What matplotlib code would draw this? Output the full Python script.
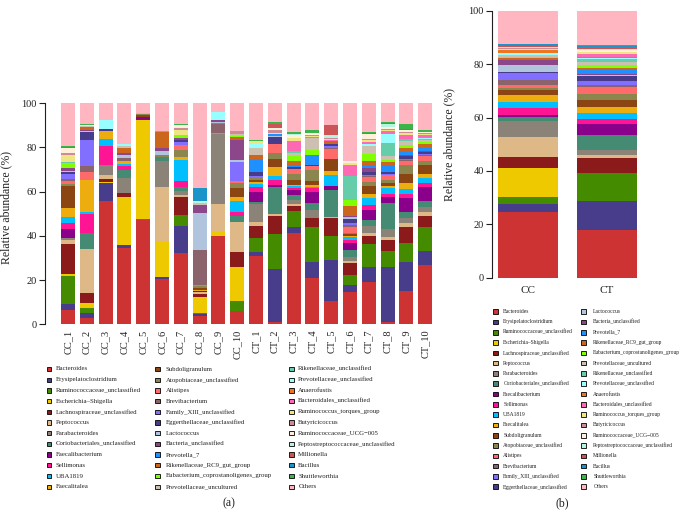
import numpy as np
import matplotlib
matplotlib.use("Agg")
import matplotlib.pyplot as plt
from matplotlib.patches import Rectangle

plt.rcParams['font.family'] = ['Liberation Serif', 'DejaVu Serif']

taxa = ["Bacteroides", "Erysipelatoclostridium", "Ruminococcaceae_unclassified",
        "Escherichia\u2013Shigella", "Lachnospiraceae_unclassified", "Peptococcus",
        "Parabacteroides", "Coriobacteriales_unclassified", "Faecalibacterium",
        "Sellimonas", "UBA1819", "Faecalitalea", "Subdoligranulum",
        "Atopobiaceae_unclassified", "Alistipes", "Brevibacterium",
        "Family_XIII_unclassified", "Eggerthellaceae_unclassified", "Lactococcus",
        "Bacteria_unclassified", "Prevotella_7", "Rikenellaceae_RC9_gut_group",
        "Eubacterium_coprostanoligenes_group", "Prevotellaceae_uncultured",
        "Rikenellaceae_unclassified", "Prevotellaceae_unclassified", "Anaerofustis",
        "Bacteroidales_unclassified", "Ruminococcus_torques_group", "Butyricicoccus",
        "Ruminococcaceae_UCG\u2212005", "Peptostreptococcaceae_unclassified",
        "Millionella", "Bacillus", "Shuttleworthia", "Others"]

colors = ["#CD3333", "#483D8B", "#458B00", "#EEC900", "#8B1A1A", "#DEB887",
          "#8B8378", "#458B74", "#8B008B", "#FF1493", "#00BFFF", "#EEAD0E",
          "#8B4513", "#8B864E", "#FF6A6A", "#8B636C", "#836FFF", "#473C8B",
          "#B0C4DE", "#8B4789", "#1E90FF", "#CD661D", "#7FFF00", "#CDC0B0",
          "#66CDAA", "#97FFFF", "#EE7621", "#FF69B4", "#EEE685", "#CD8C95",
          "#FFEFDB", "#B4F5E0", "#CD5555", "#1B95C9", "#3BB44A", "#FFB6C1"]

sample_names = ["CC_1", "CC_2", "CC_3", "CC_4", "CC_5", "CC_6", "CC_7", "CC_8", "CC_9", "CC_10",
                "CT_1", "CT_2", "CT_3", "CT_4", "CT_5", "CT_6", "CT_7", "CT_8", "CT_9", "CT_10"]

# relative abundance (%) per sample, in taxa order
cc_1 = [6.5, 2.6, 12.8, 1.0, 13.6, 1.7, 0.7, 0.3, 3.8, 2.7, 2.9, 3.9, 10.2, 0.8, 1.5, 0.6, 2.3, 1.0,
        0.3, 1.4, 0.1, 0.1, 2.3, 0.1, 0.1, 0.1, 0.1, 0.1, 2.8, 1.0, 2.5, 0.1, 0.2, 0.1, 0.4, 19.3]
cc_2 = [3.0, 2.3, 2.0, 2.3, 4.5, 20.0, 0, 7.4, 0, 8.4, 1.0, 14.3, 0, 0, 3.8, 2.6, 11.8, 3.5,
        0.5, 0.3, 0, 1.5, 0, 0.7, 0, 0, 0, 0, 0, 0, 0.3, 0, 0, 0, 0.3, 9.5]
cc_3 = [56.0, 7.8, 0, 0.5, 1.6, 1.5, 4.5, 0, 0, 9.0, 3.0, 3.5, 0, 0, 0, 0, 0, 0.8,
        0, 0, 0, 0, 0, 0, 0, 4.4, 0, 0, 0, 0, 0, 0, 0, 0, 0, 7.4]
cc_4 = [34.7, 1.2, 0, 21.6, 1.8, 0, 6.8, 3.8, 0, 1.8, 0.9, 1.5, 0, 0, 0, 1.0, 0, 0,
        1.5, 1.0, 0, 2.0, 0, 0.9, 0, 1.0, 0, 0, 0, 0, 0, 0, 0, 0, 0, 18.5]
cc_5 = [47.0, 0, 0.5, 44.8, 0.8, 0, 0, 0, 0.6, 0, 0, 0, 0.8, 0.7, 0, 0, 0, 0,
        0, 0, 0, 0, 0, 0.6, 0, 0, 0, 0, 0, 0, 0, 0, 0, 0, 0, 4.2]
cc_6 = [20.5, 0.8, 0, 16.0, 0, 24.9, 11.8, 1.5, 0, 0, 0, 0, 0, 1.0, 0, 0, 0, 0,
        2.0, 1.5, 0, 7.0, 0, 0, 0, 0, 0, 0, 0, 0.5, 0, 0, 0, 0, 0, 12.5]
cc_7 = [32.3, 12.4, 4.7, 0, 8.1, 1.2, 1.5, 2.0, 0, 2.6, 9.6, 1.4, 0, 3.0, 2.5, 0, 1.2, 0.8,
        0, 1.0, 0, 0, 1.2, 0, 0, 0, 0, 0, 2.5, 1.0, 1.0, 0, 0, 0, 0.8, 9.2]
cc_8 = [3.9, 0.8, 0.6, 7.2, 1.0, 1.0, 0, 0, 0.6, 0, 0, 0.5, 0.6, 1.0, 0.8, 15.6, 0, 0,
        16.9, 3.6, 0, 0, 0, 0.9, 0, 0, 0, 0, 0, 0, 0, 0.6, 0, 6.2, 0, 38.2]
cc_9 = [40.1, 0, 0, 1.7, 0, 12.5, 31.7, 0, 0, 0, 0, 0, 0, 0, 0.5, 4.0, 0.6, 0,
        0.5, 0.7, 0, 0, 0, 0, 0, 3.9, 0, 0, 0, 0, 0, 0, 0, 0, 0, 3.8]
cc_10 = [6.2, 0, 4.5, 15.4, 6.8, 13.6, 0, 2.5, 0, 2.0, 5.0, 1.8, 3.8, 2.3, 1.0, 0, 8.6, 0,
         1.0, 9.0, 0, 1.2, 0.6, 0.8, 0, 0, 0, 0, 0, 1.5, 0, 0, 0, 0, 0, 12.4]
ct_1 = [31.1, 1.4, 6.5, 0, 5.6, 1.5, 8.4, 1.0, 4.5, 2.3, 1.0, 1.0, 1.0, 1.0, 0, 0, 0.8, 1.6,
        0, 0, 6.0, 2.0, 0, 3.0, 0, 2.0, 0, 0, 1.3, 0, 0, 0, 0, 0, 0.6, 16.4]
ct_2 = [1.2, 23.8, 15.8, 0, 8.1, 0.8, 0, 12.5, 1.0, 2.0, 2.0, 3.8, 3.8, 2.5, 4.5, 0, 0, 3.0,
        0.5, 0, 0.6, 0, 0, 0, 0, 0, 0, 0, 0.6, 1.3, 1.0, 0, 2.0, 0, 0.8, 8.4]
ct_3 = [41.2, 3.0, 7.2, 0, 2.3, 0.7, 2.0, 2.0, 2.5, 0.8, 0.7, 0.8, 2.0, 3.0, 2.0, 0, 0, 1.0,
        0, 0, 0.8, 2.0, 2.0, 1.5, 1.0, 0, 0, 4.3, 1.5, 0, 1.5, 0.5, 0, 0, 0.7, 13.0]
ct_4 = [20.8, 7.5, 15.8, 0, 3.8, 0, 3.8, 3.0, 5.3, 1.5, 0.7, 0.8, 2.0, 5.0, 1.5, 0, 0, 0.5,
        0, 0, 4.5, 0, 2.3, 5.3, 0, 0, 0, 0.5, 0.5, 0.5, 1.0, 0, 0, 0, 1.5, 11.9]
ct_5 = [10.7, 18.4, 11.0, 0, 7.8, 0.7, 0, 12.0, 2.0, 0, 4.8, 2.0, 5.3, 0, 4.8, 0.5, 0.5, 1.0,
        0, 0, 0.5, 1.0, 0, 0, 0, 0, 0, 0.5, 0.3, 0.5, 0, 1.5, 4.5, 0, 0, 9.7]
ct_6 = [14.5, 3.3, 4.5, 0, 5.3, 1.2, 1.5, 3.5, 3.0, 1.5, 1.0, 0.7, 0.8, 0.7, 2.5, 0.8, 1.0, 2.0,
        0.7, 0.5, 0, 4.5, 2.8, 0, 11.0, 0, 0, 4.8, 1.0, 0, 1.0, 0, 0, 0, 0, 25.9]
ct_7 = [19.0, 7.0, 10.5, 0, 3.5, 1.5, 3.0, 2.5, 4.5, 2.5, 3.0, 2.0, 3.5, 2.0, 2.0, 0.5, 0.5, 1.5,
        0, 1.5, 1.5, 2.0, 3.0, 3.5, 0, 1.0, 0, 1.0, 1.0, 0.5, 2.0, 0, 0.5, 0, 0.5, 13.0]
ct_8 = [1.0, 25.0, 7.0, 0, 5.0, 1.5, 3.5, 12.0, 2.5, 1.5, 2.5, 1.0, 1.5, 1.5, 2.0, 0, 0.5, 1.0,
        0, 0, 3.0, 1.5, 1.0, 1.5, 6.0, 4.0, 0, 1.5, 0.5, 0.5, 1.0, 1.0, 0.5, 0, 0.5, 8.5]
ct_9 = [15.0, 13.0, 9.0, 0, 7.0, 2.0, 2.0, 3.0, 6.0, 2.0, 2.0, 3.0, 4.0, 4.0, 2.0, 0.5, 0.5, 1.0,
        0, 0.5, 1.5, 2.0, 1.0, 2.0, 1.0, 0, 0, 1.5, 1.0, 0.5, 1.0, 0, 0.5, 0, 2.0, 9.5]
ct_10 = [27.0, 6.0, 11.0, 0, 5.0, 2.0, 2.0, 3.0, 6.0, 2.0, 2.0, 2.0, 4.0, 2.0, 2.0, 0.5, 0.5, 1.0,
         0, 0.5, 1.5, 1.5, 1.0, 1.0, 0.5, 0.5, 0, 1.0, 0.5, 0.5, 0.5, 0, 0, 0, 1.0, 12.0]

group_names = ["CC", "CT"]
group_cc = [24.6, 2.9, 2.6, 11.0, 4.0, 7.7, 6.0, 1.5, 0.6, 2.7, 2.2, 2.7, 1.9, 0.7, 0.9, 2.1, 2.5, 0.6,
            2.4, 2.0, 0.3, 0.5, 0.4, 0.5, 0.2, 0.6, 1.0, 0.2, 0.4, 0.2, 0.3, 0.2, 0.2, 0.9, 0.2, 13.0]
group_ct = [17.9, 10.9, 10.6, 0, 5.4, 1.0, 1.9, 5.9, 4.1, 1.9, 2.1, 2.2, 2.5, 2.5, 2.4, 1.0, 1.2, 2.1,
            0.4, 0.3, 1.6, 0.8, 0.8, 1.1, 1.4, 0.4, 0.4, 1.0, 0.6, 0.3, 0.5, 0.6, 0.7, 0.2, 0.6, 12.7]

samples = [cc_1, cc_2, cc_3, cc_4, cc_5, cc_6, cc_7, cc_8, cc_9, cc_10,
           ct_1, ct_2, ct_3, ct_4, ct_5, ct_6, ct_7, ct_8, ct_9, ct_10]
groups = [group_cc, group_ct]

W, H = 687, 527
TXT = "#231F20"


def rect(l, t, r, b):
    return [l / W, 1 - b / H, (r - l) / W, (b - t) / H]


fig = plt.figure(figsize=(W / 100, H / 100), dpi=100)


def stacked(ax, data, names, width):
    mat = np.array(data, dtype=float)  # samples x taxa
    x = np.arange(len(names))
    bottom = np.zeros(len(names))
    for j in range(mat.shape[1]):
        ax.bar(x, mat[:, j], bottom=bottom, width=width, color=colors[j],
               linewidth=0, edgecolor='none')
        bottom += mat[:, j]
    ax.set_ylim(0, 100)
    ax.set_yticks([0, 20, 40, 60, 80, 100])
    for s in ['top', 'right', 'bottom']:
        ax.spines[s].set_visible(False)
    ax.spines['left'].set_bounds(0, 100)
    ax.spines['left'].set_linewidth(0.8)
    ax.spines['left'].set_color(TXT)
    ax.tick_params(axis='y', length=4, width=0.8, pad=2, labelsize=7.5, colors=TXT)
    ax.tick_params(axis='x', length=0, colors=TXT)
    ax.set_xticks(x)
    return x


# ---------- panel (a) ----------
ax_a = fig.add_axes(rect(45, 103.3, 434.5, 324.3))
stacked(ax_a, samples, sample_names, 0.745)
ax_a.set_xlim(-1.22, 19.5)
ax_a.set_xticklabels(sample_names, rotation=90, fontsize=7.5)
ax_a.tick_params(axis='x', pad=4)
ax_a.set_ylabel("Relative abundance (%)", fontsize=8.5, color=TXT)
ax_a.yaxis.set_label_coords(-0.085, 0.53)

# ---------- panel (b) ----------
ax_b = fig.add_axes(rect(492, 10.7, 646, 277.7))
stacked(ax_b, groups, group_names, 0.76)
ax_b.set_xlim(-0.457, 1.5)
ax_b.set_xticklabels(group_names, fontsize=8)
ax_b.tick_params(axis='x', pad=6)
ax_b.set_ylabel("Relative abundance (%)", fontsize=8.5, color=TXT)
ax_b.yaxis.set_label_coords(-0.24, 0.5)


# ---------- legends ----------
def legend(cols, y0, dy, per_col, mw, mh, fs):
    for i, name in enumerate(taxa):
        c, r = divmod(i, per_col)
        mx, tx = cols[c]
        y = y0 + r * dy
        fig.add_artist(Rectangle((mx / W, 1 - (y + mh / 2) / H), mw / W, mh / H,
                                 transform=fig.transFigure, facecolor=colors[i],
                                 edgecolor='#000000', linewidth=0.6))
        fig.text(tx / W, 1 - y / H, name, fontsize=fs, va='center', ha='left', color=TXT)


legend([(46.5, 55.5), (155.3, 165.7), (289.3, 298.3)], 369.0, 10.7, 12, 5.0, 4.3, 4.9)
legend([(492.7, 503.3), (580.7, 593.3)], 311.6, 10.3, 18, 5.6, 4.6, 4.0)

fig.text(229 / W, 1 - 503 / H, "(a)", fontsize=8.5, ha='center', va='center', color=TXT)
fig.text(562 / W, 1 - 503 / H, "(b)", fontsize=8.5, ha='center', va='center', color=TXT)

fig.savefig("out.png", dpi=100, facecolor='white')
